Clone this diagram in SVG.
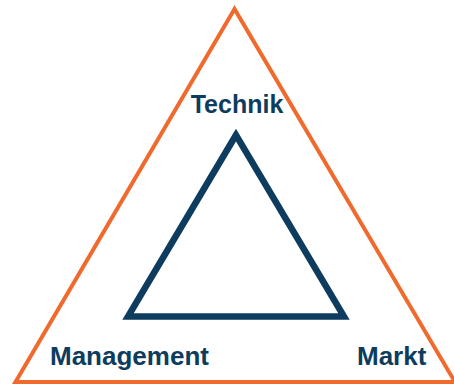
<svg xmlns="http://www.w3.org/2000/svg" width="454" height="384" viewBox="0 0 454 384">
<style>
.lbl{font-family:"Liberation Sans",Arial,sans-serif;font-weight:bold;font-size:26px;fill:#0D3C5E}
</style>
<rect width="454" height="384" fill="#fff"/>
<g id="connectors">
<polygon id="outer" points="234.5,9 15.5,382 455,382" fill="none" stroke="#EF6A2C" stroke-width="4" stroke-linejoin="miter"/>
<polygon id="inner" points="236,135 128,316.5 344,316.5" fill="none" stroke="#0D3C5E" stroke-width="6.5" stroke-linejoin="miter"/>
</g>
<g id="technik"><text class="lbl" x="237" y="113" text-anchor="middle" style="font-size:25px">Technik</text></g>
<g id="management"><text class="lbl" x="50" y="365">Management</text></g>
<g id="markt"><text class="lbl" x="357" y="365">Markt</text></g>
</svg>
